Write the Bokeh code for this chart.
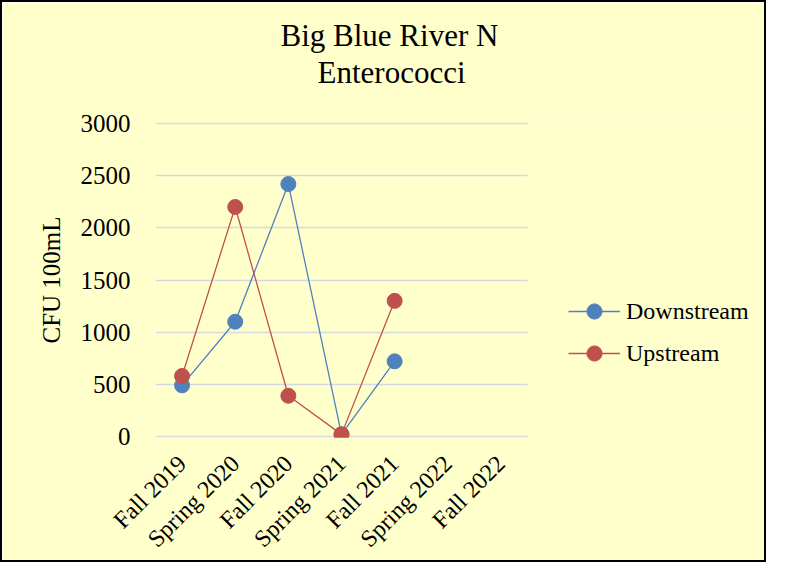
import math
from bokeh.plotting import figure
from bokeh.models import Range1d, FixedTicker, Legend, LegendItem, Title
from bokeh.embed import file_html
from bokeh.resources import INLINE

seasons = ["Fall 2019", "Spring 2020", "Fall 2020", "Spring 2021", "Fall 2021", "Spring 2022", "Fall 2022"]
downstream = [490, 1100, 2420, 20, 720, float("nan"), float("nan")]
upstream = [580, 2200, 390, 20, 1300, float("nan"), float("nan")]
y_ticks = [0, 500, 1000, 1500, 2000, 2500, 3000]
title_lines = ["Big Blue River N", "Enterococci"]
y_label = "CFU 100mL"

FONT = "Liberation Serif"
BG = "#FFFFCC"
BLUE = "#4F81BD"
RED = "#C0504D"

# layout (pixels)
W, H = 766, 562
LEFT, TOP, BOTTOM = 153, 120, 127
CAT_W = 372                      # width of the category area
FRAME_W = W - LEFT               # frame extends under the legend
slot = CAT_W / len(seasons)
x_idx = list(range(len(seasons)))
x_start = -0.5
x_end = x_start + FRAME_W / slot
cat_end = len(seasons) - 0.5

p = figure(
    width=W, height=H, title=None,
    x_range=Range1d(x_start, x_end),
    y_range=Range1d(-10, 3010),
    output_backend="svg", toolbar_location=None,
    min_border_left=LEFT, min_border_right=0, min_border_top=TOP, min_border_bottom=BOTTOM,
)
p.styles = {"border": "2px solid black"}
p.background_fill_color = BG
p.border_fill_color = BG
p.outline_line_color = None

p.xgrid.grid_line_color = None
p.ygrid.grid_line_color = "#D5D8E0"
p.ygrid.grid_line_width = 1.5
p.ygrid.cross_bounds = (x_start, cat_end)
p.yaxis.ticker = FixedTicker(ticks=y_ticks)
p.xaxis.ticker = FixedTicker(ticks=x_idx)
p.xaxis.major_label_overrides = {i: s for i, s in zip(x_idx, seasons)}

for ax in (p.xaxis, p.yaxis):
    ax.axis_line_color = None
    ax.major_tick_line_color = None
    ax.minor_tick_line_color = None
    ax.major_tick_out = 0
    ax.major_tick_in = 0
    ax.minor_tick_out = 0
    ax.major_label_text_font = FONT
    ax.major_label_text_color = "black"

p.yaxis.major_label_text_font_size = "25px"
p.xaxis.major_label_text_font_size = "24px"

p.yaxis.major_label_standoff = 25
p.yaxis.axis_label = y_label
p.yaxis.axis_label_text_font = FONT
p.yaxis.axis_label_text_font_size = "25px"
p.yaxis.axis_label_text_font_style = "normal"
p.yaxis.axis_label_text_color = "black"
p.yaxis.axis_label_standoff = 13

p.xaxis.major_label_orientation = math.pi / 4
p.xaxis.major_label_standoff = 22

l1 = p.line(x_idx, downstream, line_color=BLUE, line_width=1.3)
s1 = p.scatter(x_idx, downstream, size=15, fill_color=BLUE, line_color=BLUE)
l2 = p.line(x_idx, upstream, line_color=RED, line_width=1.3)
s2 = p.scatter(x_idx, upstream, size=15, fill_color=RED, line_color=RED)

legend = Legend(
    items=[LegendItem(label="Downstream", renderers=[l1, s1]),
           LegendItem(label="Upstream", renderers=[l2, s2])],
    location=(413, 65),
    orientation="vertical",
    background_fill_alpha=0, border_line_color=None,
    padding=0, margin=0, spacing=4,
    glyph_width=52, glyph_height=38, label_height=20,
    label_standoff=6,
    label_text_font=FONT, label_text_font_size="24px",
    label_text_color="black",
)
p.add_layout(legend, "center")

# spacer between frame and the two title lines
p.add_layout(Title(text=" ", text_font_size="10px", standoff=20), "above")
t2 = Title(text=title_lines[1], align="left", offset=162, standoff=0,
           text_font=FONT, text_font_size="31px", text_font_style="normal", text_color="black")
t1 = Title(text=title_lines[0], align="left", offset=125, standoff=0,
           text_font=FONT, text_font_size="31px", text_font_style="normal", text_color="black")
p.add_layout(t2, "above")
p.add_layout(t1, "above")

open("out.html", "w").write(file_html(p, INLINE))
